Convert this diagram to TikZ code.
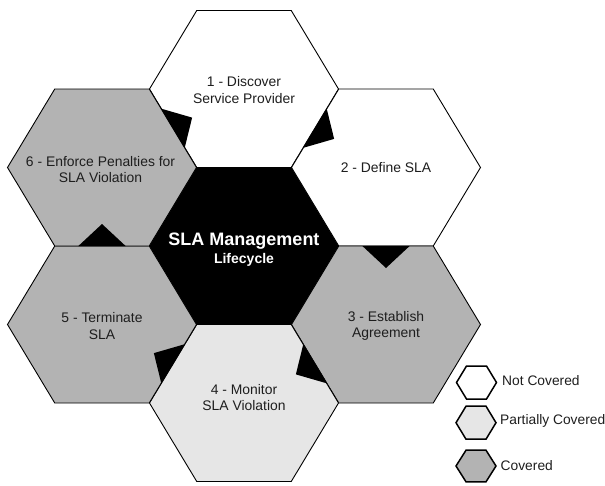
\documentclass[tikz,border=0pt]{standalone}
\usepackage{fontspec}
\setmainfont{Liberation Sans}
\usetikzlibrary{calc}
\definecolor{covered}{HTML}{B3B3B3}
\definecolor{partial}{HTML}{E6E6E6}
\definecolor{txt}{HTML}{1E1E1E}
\tikzset{
  hexline/.style={draw=black, line width=0.9pt, line join=miter},
  legline/.style={draw=black, line width=1.5pt, line join=miter},
  lbl/.style={align=center, text=txt, font=\fontsize{13.9}{16.8}\selectfont, inner sep=0pt},
  leglbl/.style={anchor=west, text=txt, font=\fontsize{13.8}{16.7}\selectfont, inner sep=0pt},
  flowtri/.style={fill=black, draw=none},
}
% name, cx, cy, R, h, style
\newcommand\hexshape[6]{%
  \coordinate (#1-v0) at ({#2+#4},{#3});
  \coordinate (#1-v1) at ({#2+#4/2},{#3-#5});
  \coordinate (#1-v2) at ({#2-#4/2},{#3-#5});
  \coordinate (#1-v3) at ({#2-#4},{#3});
  \coordinate (#1-v4) at ({#2-#4/2},{#3+#5});
  \coordinate (#1-v5) at ({#2+#4/2},{#3+#5});
  \coordinate (#1) at (#2,#3);
  \path[#6] (#1-v0)--(#1-v1)--(#1-v2)--(#1-v3)--(#1-v4)--(#1-v5)--cycle;
}
% edge end 1, edge end 2, target centre
\newcommand\flowarrow[3]{%
  \coordinate (fm) at ($(#1)!0.5!(#2)$);
  \fill[flowtri] ($(#1)!0.25!(#2)$) -- ($(#1)!0.75!(#2)$) -- ($(fm)!22pt!(#3)$) -- cycle;
}
\begin{document}
\begin{tikzpicture}[x=1pt,y=-1pt]
  \path[use as bounding box] (0,0) rectangle (605,485);
  % main hexagons
  \hexshape{h0}{244}{246}{94.5}{78.5}{hexline, fill=black}
  \hexshape{h1}{244}{89}{94.5}{78.5}{hexline, fill=white}
  \hexshape{h2}{386}{167.5}{94.5}{78.5}{hexline, fill=white}
  \hexshape{h3}{386}{324.5}{94.5}{78.5}{hexline, fill=covered}
  \hexshape{h4}{244}{403}{94.5}{78.5}{hexline, fill=partial}
  \hexshape{h5}{102}{324.5}{94.5}{78.5}{hexline, fill=covered}
  \hexshape{h6}{102}{167.5}{94.5}{78.5}{hexline, fill=covered}
  % flow arrows
  \flowarrow{h1-v0}{h1-v5}{h2}
  \flowarrow{h2-v4}{h2-v5}{h3}
  \flowarrow{h3-v3}{h3-v4}{h4}
  \flowarrow{h4-v2}{h4-v3}{h5}
  \flowarrow{h5-v1}{h5-v2}{h6}
  \flowarrow{h6-v0}{h6-v1}{h1}
  % labels
  \node[anchor=base, text=white, inner sep=0pt, font=\fontsize{18}{20}\selectfont\bfseries] (t0a) at (244,245.7) {SLA Management};
  \node[anchor=base, text=white, inner sep=0pt, font=\fontsize{14}{16}\selectfont\bfseries] (t0b) at (244,263.3) {Lifecycle};
  \node[lbl] (t1) at (244,90) {1 - Discover\\Service Provider};
  \node[lbl] (t2) at (386,168) {2 - Define SLA};
  \node[lbl] (t3) at (386,326) {3 - Establish\\Agreement};
  \node[lbl] (t4) at (244,397.5) {4 - Monitor\\SLA Violation};
  \node[lbl] (t5) at (102,326) {5 - Terminate\\SLA};
  \node[lbl] (t6) at (100.5,169.5) {6 - Enforce Penalties for\\SLA Violation};
  % legend
  \hexshape{l1}{476.5}{382.5}{20}{16.5}{legline, fill=white}
  \hexshape{l2}{476}{422.7}{20}{16.5}{legline, fill=partial}
  \hexshape{l3}{476}{466}{20}{15.8}{legline, fill=covered}
  \node[leglbl] (n1) at (502,381) {Not Covered};
  \node[leglbl] (n2) at (500,421) {Partially Covered};
  \node[leglbl] (n3) at (500.5,465.5) {Covered};
\end{tikzpicture}
\end{document}
